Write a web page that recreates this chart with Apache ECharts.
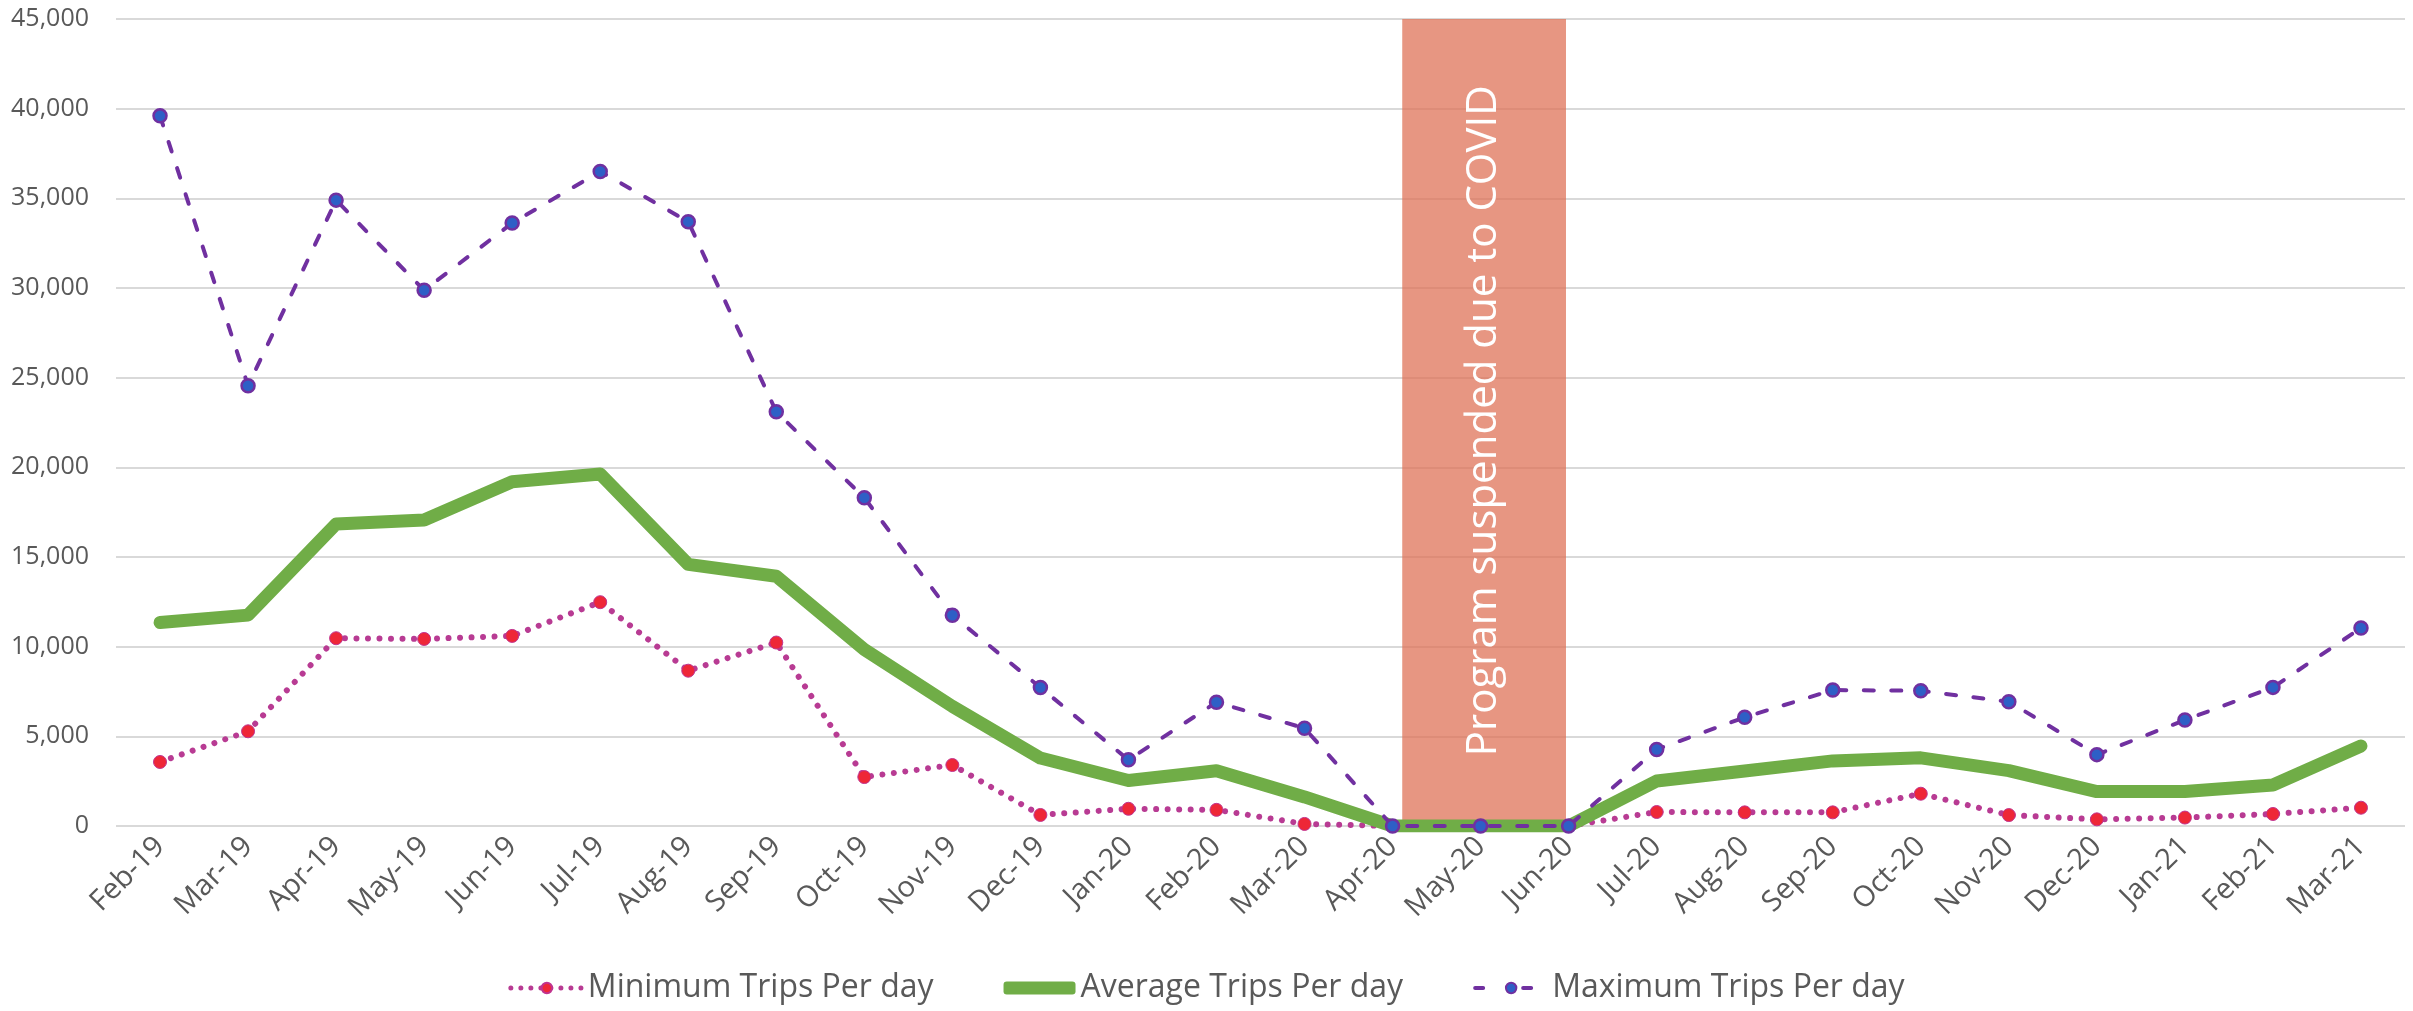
<!DOCTYPE html>
<html>
<head>
<meta charset="utf-8">
<script src="https://cdn.jsdelivr.net/npm/echarts@6/dist/echarts.min.js"></script>
<style>
html,body{margin:0;padding:0;background:#fff;}
#chart{width:2413px;height:1011px;}
</style>
</head>
<body>
<div id="chart"></div>
<script>
const categories = ['Feb-19','Mar-19','Apr-19','May-19','Jun-19','Jul-19','Aug-19','Sep-19','Oct-19','Nov-19','Dec-19','Jan-20','Feb-20','Mar-20','Apr-20','May-20','Jun-20','Jul-20','Aug-20','Sep-20','Oct-20','Nov-20','Dec-20','Jan-21','Feb-21','Mar-21'];
const minTrips = [3570,5280,10470,10430,10600,12480,8660,10230,2730,3400,615,960,900,115,0,0,0,780,760,760,1800,610,370,470,670,1020];
const avgTrips = [11350,11760,16840,17060,19200,19630,14590,13930,9840,6670,3790,2540,3080,1620,0,0,0,2510,3070,3630,3800,3090,1920,1920,2290,4460];
const maxTrips = [39600,24550,34900,29870,33620,36500,33700,23100,18300,11750,7720,3690,6900,5450,0,0,0,4270,6060,7580,7540,6930,3980,5910,7730,11040];
const yTicks = {min: 0, max: 45000, interval: 5000};
const covidSpan = {from: 14.11, to: 15.97, low: 200, high: 45000, text: 'Program suspended due to COVID'};
const seriesNames = ['Minimum Trips Per day','Average Trips Per day','Maximum Trips Per day'];

const font = 'Open Sans';
const minLine = {color: '#B83B93', width: 6, type: [0.01, 11.5], cap: 'round'};
const avgLine = {color: '#70AD47', width: 13, cap: 'round', join: 'round'};
const maxLine = {color: '#7030A0', width: 4, type: [10, 17.5], cap: 'round'};

const chart = echarts.init(document.getElementById('chart'));
chart.setOption({
  animation: false,
  textStyle: {fontFamily: font},
  grid: {left: 116, right: 8, top: 19, bottom: 185, containLabel: false},
  legend: {
    data: [
      {name: seriesNames[0], lineStyle: {width: 5, type: [0.01, 10], cap: 'round'}},
      {name: seriesNames[1], icon: 'roundRect', itemStyle: {color: '#70AD47'}},
      {name: seriesNames[2], lineStyle: {width: 4, type: [8, 40], cap: 'round'}}
    ],
    bottom: 2,
    left: 'center',
    itemWidth: 72,
    itemHeight: 13,
    itemGap: 70,
    textStyle: {fontFamily: font, fontSize: 32, color: '#595959'}
  },
  xAxis: [{
    type: 'category',
    data: categories,
    boundaryGap: true,
    axisLine: {show: false},
    axisTick: {show: false},
    axisLabel: {rotate: 45, fontSize: 29, color: '#595959', fontFamily: font, margin: 16},
    splitLine: {show: false}
  }, {
    type: 'value',
    min: -0.5,
    max: 25.5,
    show: false
  }],
  yAxis: {
    type: 'value',
    min: yTicks.min,
    max: yTicks.max,
    interval: yTicks.interval,
    axisLine: {show: false},
    axisTick: {show: false},
    axisLabel: {
      fontSize: 25, color: '#595959', fontFamily: font, margin: 27,
      formatter: v => v.toLocaleString('en-US')
    },
    splitLine: {lineStyle: {color: '#D9D9D9', width: 2}}
  },
  series: [
    {
      name: 'covid',
      type: 'line',
      xAxisIndex: 1,
      data: [],
      silent: true,
      z: 1,
      markArea: {
        silent: true,
        itemStyle: {color: 'rgba(222,110,82,0.72)'},
        label: {
          show: true,
          position: 'inside',
          rotate: 90,
          color: '#ffffff',
          fontSize: 42,
          fontFamily: font
        },
        data: [[
          {name: covidSpan.text, xAxis: covidSpan.from, yAxis: covidSpan.high},
          {xAxis: covidSpan.to, yAxis: covidSpan.low}
        ]]
      }
    },
    {
      name: seriesNames[0],
      type: 'line',
      data: minTrips,
      z: 3,
      symbol: 'circle',
      symbolSize: 13,
      showSymbol: true,
      itemStyle: {color: '#EE2737', borderColor: '#C0338F', borderWidth: 1},
      lineStyle: minLine
    },
    {
      name: seriesNames[1],
      type: 'line',
      data: avgTrips,
      z: 3,
      symbol: 'none',
      itemStyle: {color: '#70AD47'},
      lineStyle: avgLine
    },
    {
      name: seriesNames[2],
      type: 'line',
      data: maxTrips,
      z: 4,
      symbol: 'circle',
      symbolSize: 13,
      showSymbol: true,
      itemStyle: {color: '#2E5FC6', borderColor: '#7030A0', borderWidth: 2.5},
      lineStyle: maxLine
    }
  ]
});
</script>
</body>
</html>
